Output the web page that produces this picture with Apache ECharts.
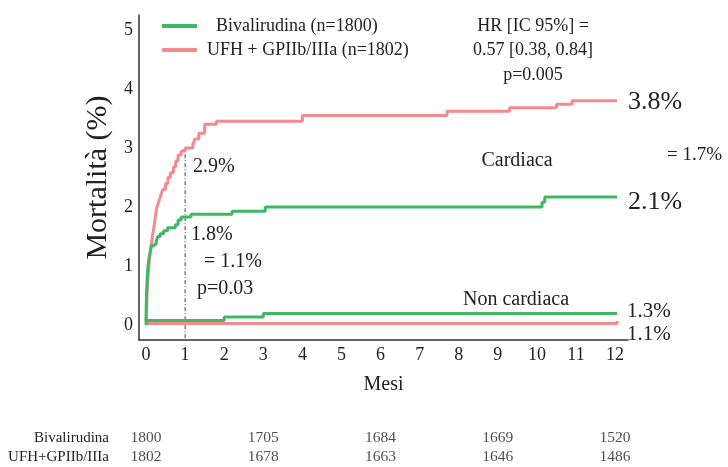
<!DOCTYPE html>
<html>
<head>
<meta charset="utf-8">
<script src="https://cdn.jsdelivr.net/npm/echarts@6/dist/echarts.min.js"></script>
<style>
html, body { margin: 0; padding: 0; background: #fff; }
#chart { width: 728px; height: 467px; }
</style>
</head>
<body>
<div id="chart"></div>
<script>
// curve di Kaplan-Meier: [mese, mortalità %]
var bivCardiaca = [[0,0.05],[0.01,0.5],[0.03,0.8],[0.05,1.0],[0.08,1.15],[0.11,1.25],[0.14,1.35],[0.2,1.38],[0.26,1.42],[0.3,1.5],[0.36,1.55],[0.45,1.6],[0.55,1.65],[0.75,1.7],[0.82,1.78],[0.9,1.83],[1.15,1.88],[2.2,1.93],[3.05,2.0],[10.13,2.08],[10.2,2.17],[12.05,2.17]];
var ufhCardiaca = [[0,0.03],[0.02,0.4],[0.04,0.7],[0.06,0.9],[0.08,1.05],[0.1,1.2],[0.13,1.35],[0.16,1.5],[0.2,1.65],[0.24,1.85],[0.28,2.0],[0.33,2.1],[0.38,2.2],[0.43,2.3],[0.5,2.4],[0.56,2.5],[0.62,2.58],[0.7,2.68],[0.76,2.78],[0.82,2.88],[0.9,2.95],[1.0,3.0],[1.2,3.07],[1.25,3.15],[1.35,3.25],[1.5,3.4],[1.8,3.45],[4.0,3.55],[7.7,3.62],[9.3,3.68],[10.5,3.74],[10.9,3.8],[12.05,3.8]];
var bivNonCardiaca = [[0,0],[0.02,0.08],[2.0,0.14],[3.0,0.2],[12.05,0.2]];
var ufhNonCardiaca = [[0,0.03],[12.05,0.07]];
var lineaUnMese = [[1,-0.22],[1,2.97]];

var mesiTick = [0,1,2,3,4,5,6,7,8,9,10,11,12];
var mortTick = [0,1,2,3,4,5];

// pazienti a rischio
var mesiRischio = [0,3,6,9,12];
var bivRischio = [1800,1705,1684,1669,1520];
var ufhRischio = [1802,1678,1663,1646,1486];

var verde = '#3fb866';
var rosa = '#f48a8c';
var font = 'Liberation Serif';
var testo = '#222';

function rischioData(nome, vals) {
    return vals.map(function (v, i) { return [mesiRischio[i], nome, v]; });
}

var chart = echarts.init(document.getElementById('chart'));

function txt(x, y, s, size, align) {
    return {
        type: 'text', x: x, y: y,
        style: { text: s, font: size + 'px "' + font + '"', fill: testo, align: align || 'left', verticalAlign: 'middle' }
    };
}

var option = {
    animation: false,
    backgroundColor: '#fff',
    textStyle: { fontFamily: font },
    legend: {
        orient: 'vertical',
        left: 157, top: 12,
        itemWidth: 35, itemHeight: 4, itemGap: 6,
        icon: 'rect',
        data: ['Bivalirudina (n=1800)', 'UFH + GPIIb/IIIa (n=1802)'],
        formatter: function (n) { return n.indexOf('Bival') === 0 ? '  ' + n : n; },
        textStyle: { fontFamily: font, fontSize: 18, color: testo, padding: [0, 0, 0, 5] }
    },
    grid: [
        { left: 139, right: 100, top: 15, bottom: 127 },
        { left: 139, right: 100, top: 428, height: 40 }
    ],
    xAxis: [
        {
            type: 'value', gridIndex: 0, min: -0.18, max: 12.33,
            name: 'Mesi', nameLocation: 'middle', nameGap: 35,
            nameTextStyle: { fontFamily: font, fontSize: 20, color: testo },
            axisLine: { onZero: false, lineStyle: { color: '#333', width: 1.5 } },
            axisTick: { show: false },
            splitLine: { show: false },
            axisLabel: { customValues: mesiTick, fontFamily: font, fontSize: 18, color: testo, margin: 6 }
        },
        { type: 'value', gridIndex: 1, min: -0.18, max: 12.33, show: false }
    ],
    yAxis: [
        {
            type: 'value', gridIndex: 0, min: -0.25, max: 5.25,
            name: 'Mortalità (%)', nameLocation: 'middle', nameGap: 17,
            nameTextStyle: { fontFamily: font, fontSize: 30, color: testo },
            axisLine: { show: true, onZero: false, lineStyle: { color: '#333', width: 1.5 } },
            axisTick: { show: false },
            splitLine: { show: false },
            axisLabel: { customValues: mortTick, fontFamily: font, fontSize: 18, color: testo, margin: 6 }
        },
        {
            type: 'category', gridIndex: 1, data: ['UFH+GPIIb/IIIa', 'Bivalirudina'],
            axisLine: { show: false }, axisTick: { show: false },
            axisLabel: { interval: 0, hideOverlap: false, fontFamily: font, fontSize: 15, color: testo, margin: 30 }
        }
    ],
    series: [
        {
            name: 'UFH + GPIIb/IIIa (n=1802)', type: 'line', step: 'end', data: ufhCardiaca,
            showSymbol: false, itemStyle: { color: rosa }, lineStyle: { color: rosa, width: 3 }
        },
        {
            name: 'UFH non cardiaca', type: 'line', step: 'end', data: ufhNonCardiaca,
            showSymbol: false, lineStyle: { color: rosa, width: 3 }
        },
        {
            name: 'Bivalirudina (n=1800)', type: 'line', step: 'end', data: bivCardiaca,
            showSymbol: false, itemStyle: { color: verde }, lineStyle: { color: verde, width: 3 }
        },
        {
            name: 'Bivalirudina non cardiaca', type: 'line', step: 'end', data: bivNonCardiaca,
            showSymbol: false, lineStyle: { color: verde, width: 3 }
        },
        {
            name: '1 mese', type: 'line', data: lineaUnMese, showSymbol: false,
            lineStyle: { color: '#444', width: 1, type: [4, 2, 1, 2] }, z: 1
        },
        {
            name: 'rischio biv', type: 'scatter', xAxisIndex: 1, yAxisIndex: 1,
            data: rischioData('Bivalirudina', bivRischio), symbolSize: 1, itemStyle: { color: 'transparent' },
            label: { show: true, position: 'inside', formatter: function (p) { return p.value[2]; }, fontFamily: font, fontSize: 15.5, color: testo }
        },
        {
            name: 'rischio ufh', type: 'scatter', xAxisIndex: 1, yAxisIndex: 1,
            data: rischioData('UFH+GPIIb/IIIa', ufhRischio), symbolSize: 1, itemStyle: { color: 'transparent' },
            label: { show: true, position: 'inside', formatter: function (p) { return p.value[2]; }, fontFamily: font, fontSize: 15.5, color: testo }
        }
    ],
    graphic: [
        txt(533, 26, 'HR [IC 95%] =', 18, 'center'),
        txt(533, 50, '0.57 [0.38, 0.84]', 18, 'center'),
        txt(533, 75, 'p=0.005', 18, 'center'),
        txt(628, 102, '3.8%', 26),
        txt(667, 155, '= 1.7%', 19),
        txt(517, 161, 'Cardiaca', 20, 'center'),
        txt(628, 202, '2.1%', 26),
        txt(193, 167, '2.9%', 20),
        txt(191, 235, '1.8%', 20),
        txt(204, 262, '= 1.1%', 20),
        txt(197, 289, 'p=0.03', 20),
        txt(516, 300, 'Non cardiaca', 20, 'center'),
        txt(627, 311, '1.3%', 21),
        txt(627, 334, '1.1%', 21)
    ]
};

chart.setOption(option);
</script>
</body>
</html>
